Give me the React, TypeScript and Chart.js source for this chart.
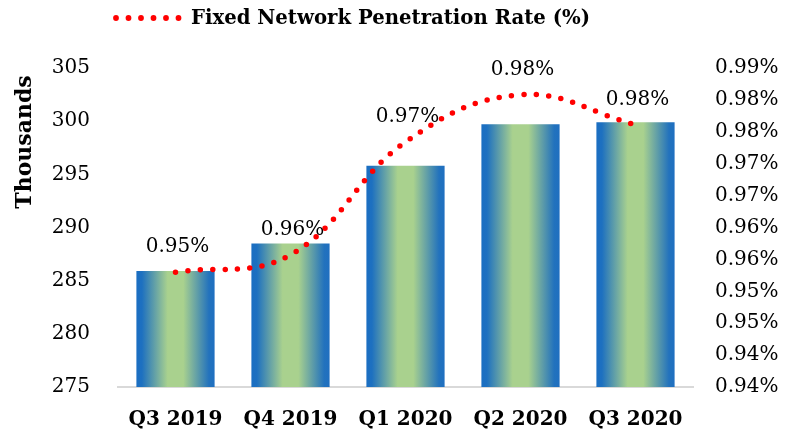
import React, { useEffect, useRef } from "react";
import { Chart, registerables } from "chart.js";

Chart.register(...registerables);

const categories = ["Q3 2019", "Q4 2019", "Q1 2020", "Q2 2020", "Q3 2020"];
const subscribers = [285.9, 288.5, 295.8, 299.7, 299.9];
const penetration = [0.953, 0.9557, 0.9734, 0.9808, 0.9761];
const penetrationLabels = ["0.95%", "0.96%", "0.97%", "0.98%", "0.98%"];
const rightTickValues = [0.935, 0.94, 0.945, 0.95, 0.955, 0.96, 0.965, 0.97, 0.975, 0.98, 0.985];
const rightTickLabels = ["0.94%", "0.94%", "0.95%", "0.95%", "0.96%", "0.96%", "0.97%", "0.97%", "0.98%", "0.98%", "0.99%"];
const legendText = "Fixed Network Penetration Rate (%)";
const yTitle = "Thousands";

const SERIF = "'DejaVu Serif', serif";
const BAR_PCT = 0.68;

export default function App() {
  const ref = useRef<HTMLCanvasElement>(null);

  useEffect(() => {
    document.body.style.margin = "0";
    const canvas = ref.current!;

    const labelsPlugin = {
      id: "labelsPlugin",
      afterDatasetsDraw(chart: any) {
        const ctx = chart.ctx;
        ctx.save();
        ctx.fillStyle = "#000";
        ctx.font = `20px ${SERIF}`;
        ctx.textAlign = "center";
        ctx.textBaseline = "middle";
        const barMeta = chart.getDatasetMeta(0);
        barMeta.data.forEach((el: any, i: number) => {
          const mid = (el.y + el.base) / 2;
          ctx.fillText(subscribers[i].toFixed(1), el.x, mid + 1);
        });
        const lineMeta = chart.getDatasetMeta(1);
        lineMeta.data.forEach((el: any, i: number) => {
          ctx.fillText(penetrationLabels[i], el.x + 2, el.y - 25);
        });
        ctx.restore();
      },
      afterDraw(chart: any) {
        const ctx = chart.ctx;
        ctx.save();
        // legend
        ctx.fillStyle = "#ff0000";
        for (let k = 0; k < 6; k++) {
          ctx.beginPath();
          ctx.arc(116 + k * 12.5, 18, 2.9, 0, Math.PI * 2);
          ctx.fill();
        }
        ctx.fillStyle = "#000";
        ctx.font = `bold 19.7px ${SERIF}`;
        ctx.textAlign = "left";
        ctx.textBaseline = "middle";
        ctx.fillText(legendText, 191, 19);
        // y axis title
        ctx.save();
        ctx.translate(25, 142);
        ctx.rotate(-Math.PI / 2);
        ctx.font = `bold 22px ${SERIF}`;
        ctx.textAlign = "center";
        ctx.fillText(yTitle, 0, 0);
        ctx.restore();
        ctx.restore();
      },
    };

    const chart = new Chart(canvas, {
      type: "bar",
      data: {
        labels: categories,
        datasets: [
          {
            type: "bar",
            data: subscribers,
            yAxisID: "y",
            order: 1,
            barPercentage: BAR_PCT,
            categoryPercentage: 1,
            borderWidth: 0,
            backgroundColor: (c: any) => {
              const ch = c.chart;
              const xs = ch.scales?.x;
              if (!ch.chartArea || !xs || c.dataIndex === undefined) return "#a9d18e";
              const cx = xs.getPixelForValue(c.dataIndex);
              const w = (xs.width / categories.length) * BAR_PCT;
              const g = ch.ctx.createLinearGradient(cx - w / 2, 0, cx + w / 2, 0);
              g.addColorStop(0, "#1a6ec2");
              g.addColorStop(0.07, "#1d70c0");
              g.addColorStop(0.4, "#a9d18e");
              g.addColorStop(0.6, "#a9d18e");
              g.addColorStop(0.93, "#2272bd");
              g.addColorStop(1, "#1f6fc0");
              return g;
            },
          } as any,
          {
            type: "line",
            data: penetration,
            yAxisID: "y1",
            order: 0,
            borderColor: "#ff0000",
            borderWidth: 5.5,
            borderDash: [0, 12.4],
            borderCapStyle: "round",
            tension: 0.4,
            pointRadius: 0,
            fill: false,
          } as any,
        ],
      },
      options: {
        responsive: false,
        animation: false,
        layout: { padding: { top: 68, left: 0, right: 0, bottom: 0 } },
        plugins: {
          legend: { display: false },
          tooltip: { enabled: false },
        },
        scales: {
          x: {
            grid: { display: false, drawTicks: false },
            border: { display: true, color: "#d9d9d9", width: 2 },
            ticks: {
              color: "#000",
              font: { family: SERIF, size: 20, weight: "bold" },
              padding: 21,
            },
            afterFit: (s: any) => {
              s.height = 45;
            },
          },
          y: {
            position: "left",
            min: 275,
            max: 305,
            grid: { display: false, drawTicks: false },
            border: { display: false },
            ticks: {
              stepSize: 5,
              color: "#000",
              font: { family: SERIF, size: 20 },
              padding: 28,
            },
            afterFit: (s: any) => {
              s.width = 118;
            },
          },
          y1: {
            position: "right",
            min: 0.935,
            max: 0.985,
            grid: { display: false, drawTicks: false },
            border: { display: false },
            afterBuildTicks: (s: any) => {
              s.ticks = rightTickValues.map((v) => ({ value: v }));
            },
            ticks: {
              color: "#000",
              font: { family: SERIF, size: 20 },
              padding: 22,
              callback: (_v: any, i: number) => rightTickLabels[i],
            },
            afterFit: (s: any) => {
              s.width = 102;
            },
          },
        },
      } as any,
      plugins: [labelsPlugin],
    });

    return () => chart.destroy();
  }, []);

  return <canvas ref={ref} width={795} height={432} style={{ display: "block" }} />;
}
